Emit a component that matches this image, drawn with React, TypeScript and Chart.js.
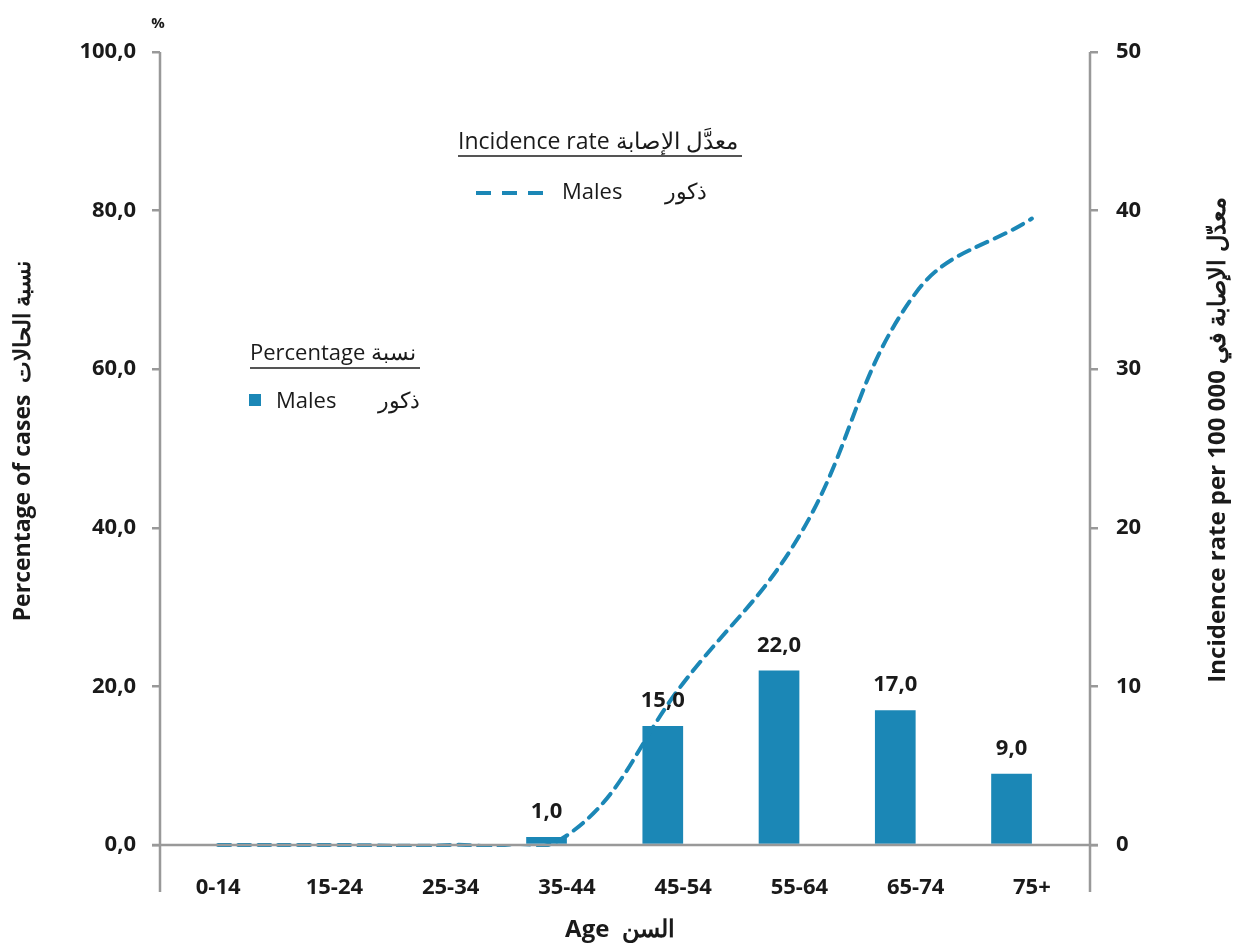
import React, { useEffect, useRef } from "react";
import { Chart, registerables } from "chart.js";

Chart.register(...registerables);

const categories = ["0-14", "15-24", "25-34", "35-44", "45-54", "55-64", "65-74", "75+"];
const percentageMales = [null, null, null, 1.0, 15.0, 22.0, 17.0, 9.0];
const incidenceMales = [0, 0, 0, 0.6, 10.2, 19.5, 34.8, 39.5];
const leftTicks = [0, 20, 40, 60, 80, 100];
const rightTicks = [0, 10, 20, 30, 40, 50];

const BLUE = "#1b87b6";
const AXIS = "#999999";
const TEXT = "#1a1a1a";
const FONT = "'Open Sans', 'Noto Sans', sans-serif";

const fmt = (v: number) => v.toFixed(1).replace(".", ",");

const decorPlugin = {
  id: "decor",
  afterDatasetsDraw(chart: any) {
    const ctx = chart.ctx as CanvasRenderingContext2D;
    const area = chart.chartArea;
    ctx.save();
    // axis lines
    ctx.strokeStyle = AXIS;
    ctx.lineWidth = 2.5;
    ctx.beginPath();
    ctx.moveTo(area.left, area.top);
    ctx.lineTo(area.left, 892);
    ctx.moveTo(area.right, area.top);
    ctx.lineTo(area.right, 892);
    ctx.moveTo(area.left - 8, area.bottom);
    ctx.lineTo(area.right + 8, area.bottom);
    ctx.stroke();

    // bar value labels
    const meta = chart.getDatasetMeta(0);
    ctx.fillStyle = TEXT;
    ctx.font = `bold 22px ${FONT}`;
    ctx.textAlign = "center";
    ctx.textBaseline = "alphabetic";
    meta.data.forEach((bar: any, i: number) => {
      const v = percentageMales[i];
      if (v === null || v === undefined) return;
      ctx.fillText(fmt(v), bar.x, bar.y - 19);
    });

    // % unit
    ctx.font = `bold 15px ${FONT}`;
    ctx.fillText("%", 158, 28);

    // left axis title
    ctx.font = `bold 23px ${FONT}`;
    ctx.save();
    ctx.translate(23, 441);
    ctx.rotate(-Math.PI / 2);
    ctx.textAlign = "center";
    ctx.textBaseline = "middle";
    ctx.fillText("Percentage of cases  نسبة الحالات", 0, 0);
    ctx.restore();

    // right axis title
    ctx.font = `bold 24px ${FONT}`;
    ctx.save();
    ctx.translate(1218, 440);
    ctx.rotate(-Math.PI / 2);
    ctx.textAlign = "center";
    ctx.textBaseline = "middle";
    ctx.fillText("Incidence rate per 100 000 معدّل الإصابة في", 0, 0);
    ctx.restore();

    // bottom title
    ctx.font = `bold 24px ${FONT}`;
    ctx.textAlign = "center";
    ctx.textBaseline = "middle";
    ctx.fillText("Age  السن", 620, 930);

    // legend: incidence rate
    ctx.font = `23px ${FONT}`;
    ctx.textAlign = "left";
    ctx.textBaseline = "alphabetic";
    const t1 = "Incidence rate معدَّل الإصابة";
    ctx.fillText(t1, 458, 149);
    const w1 = ctx.measureText(t1).width;
    ctx.strokeStyle = "#555";
    ctx.lineWidth = 2;
    ctx.beginPath();
    ctx.moveTo(458, 156);
    ctx.lineTo(458 + Math.max(w1, 284), 156);
    ctx.stroke();

    ctx.strokeStyle = BLUE;
    ctx.lineWidth = 4;
    ctx.setLineDash([15, 11]);
    ctx.beginPath();
    ctx.moveTo(476, 193);
    ctx.lineTo(546, 193);
    ctx.stroke();
    ctx.setLineDash([]);
    ctx.font = `22px ${FONT}`;
    ctx.fillText("Males", 562, 199);
    ctx.fillText("ذكور", 665, 199);

    // legend: percentage
    ctx.font = `22px ${FONT}`;
    const t2 = "Percentage نسبة";
    ctx.fillText(t2, 250, 360);
    const w2 = ctx.measureText(t2).width;
    ctx.strokeStyle = "#555";
    ctx.lineWidth = 2;
    ctx.beginPath();
    ctx.moveTo(250, 368);
    ctx.lineTo(250 + Math.max(w2, 170), 368);
    ctx.stroke();
    ctx.fillStyle = BLUE;
    ctx.fillRect(249, 394, 12, 12);
    ctx.fillStyle = TEXT;
    ctx.font = `22px ${FONT}`;
    ctx.fillText("Males", 276, 408);
    ctx.fillText("ذكور", 378, 408);

    ctx.restore();
  },
};

export default function App() {
  const ref = useRef<HTMLCanvasElement>(null);
  useEffect(() => {
    if (!ref.current) return;
    const chart = new Chart(ref.current, {
      type: "bar",
      data: {
        labels: categories,
        datasets: [
          {
            type: "bar",
            label: "Percentage Males",
            data: percentageMales as any,
            backgroundColor: BLUE,
            yAxisID: "y",
            categoryPercentage: 0.7,
            barPercentage: 1.0,
            order: 2,
          },
          {
            type: "bar",
            label: "spacer",
            data: categories.map(() => null) as any,
            backgroundColor: "rgba(0,0,0,0)",
            yAxisID: "y",
            categoryPercentage: 0.7,
            barPercentage: 1.0,
            order: 3,
          },
          {
            type: "line",
            label: "Incidence Males",
            data: incidenceMales,
            borderColor: BLUE,
            borderWidth: 4,
            borderDash: [12, 8],
            borderCapStyle: "round",
            pointRadius: 0,
            tension: 0.4,
            capBezierPoints: false,
            clip: { left: 0, right: 0, top: 0, bottom: 2 },
            fill: false,
            yAxisID: "y1",
            order: 1,
          } as any,
        ],
      },
      options: {
        responsive: false,
        animation: false,
        layout: { padding: { top: 52, left: 0, right: 0, bottom: 0 } },
        elements: { line: { capBezierPoints: false } },
        plugins: {
          legend: { display: false },
          tooltip: { enabled: false },
          title: { display: false },
        },
        scales: {
          x: {
            type: "category",
            grid: { display: false },
            border: { display: false },
            ticks: {
              color: TEXT,
              font: { family: FONT, size: 22, weight: "bold" },
              padding: 22,
              maxRotation: 0,
              autoSkip: false,
            },
            afterFit: (s: any) => {
              s.height = 98;
            },
          },
          y: {
            position: "left",
            min: 0,
            max: 100,
            afterBuildTicks: (s: any) => {
              s.ticks = leftTicks.map((v) => ({ value: v }));
            },
            grid: {
              drawOnChartArea: false,
              drawTicks: true,
              tickLength: 8,
              color: AXIS,
              lineWidth: 2.5,
            },
            border: { display: false },
            ticks: {
              color: TEXT,
              font: { family: FONT, size: 22, weight: "bold" },
              padding: 16,
              callback: (v: any) => fmt(Number(v)),
            },
            afterFit: (s: any) => {
              s.width = 160;
            },
          },
          y1: {
            position: "right",
            min: 0,
            max: 50,
            afterBuildTicks: (s: any) => {
              s.ticks = rightTicks.map((v) => ({ value: v }));
            },
            grid: {
              drawOnChartArea: false,
              drawTicks: true,
              tickLength: 8,
              color: AXIS,
              lineWidth: 2.5,
            },
            border: { display: false },
            ticks: {
              color: TEXT,
              font: { family: FONT, size: 22, weight: "bold" },
              padding: 18,
              callback: (v: any) => String(v),
            },
            afterFit: (s: any) => {
              s.width = 146;
            },
          },
        },
      } as any,
      plugins: [decorPlugin],
    });
    return () => chart.destroy();
  }, []);

  return (
    <div style={{ position: "absolute", left: 0, top: 0, width: 1236, height: 943, background: "#fff" }}>
      <canvas ref={ref} width={1236} height={943} style={{ width: 1236, height: 943, display: "block" }} />
    </div>
  );
}
